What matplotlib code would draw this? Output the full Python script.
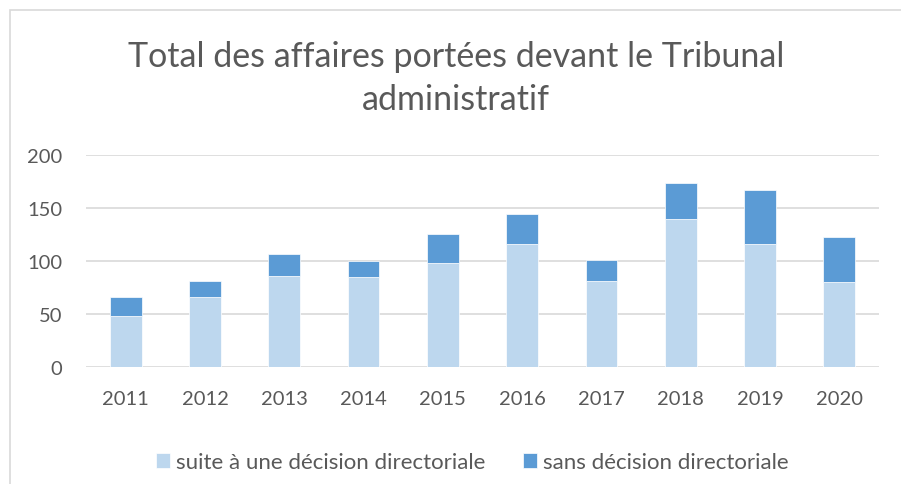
import matplotlib.pyplot as plt
from matplotlib.patches import Rectangle

years = ['2011', '2012', '2013', '2014', '2015', '2016', '2017', '2018', '2019', '2020']
avec_decision = [48, 66, 86, 85, 98, 116, 81, 139, 116, 80]
sans_decision = [18, 15, 20, 15, 27, 28, 20, 34, 51, 42]

light = '#BDD7EE'
dark = '#5B9BD5'
grey_text = '#595959'

plt.rcParams['font.family'] = ['Lato', 'DejaVu Sans']

fig = plt.figure(figsize=(9.01, 4.85), dpi=100)
ax = fig.add_axes([0.0955, 0.2419, 0.88, 0.4371])

x = range(len(years))
ax.bar(x, avec_decision, width=0.4, color=light, edgecolor='white', linewidth=0.5,
       label='suite à une décision directoriale', zorder=3)
ax.bar(x, sans_decision, width=0.4, bottom=avec_decision, color=dark, edgecolor='white',
       linewidth=0.5, label='sans décision directoriale', zorder=3)

ax.set_xlim(-0.5, 9.5)
ax.set_ylim(0, 200)
ax.set_yticks([0, 50, 100, 150, 200])
ax.set_xticks(list(x))
ax.set_xticklabels(years)
ax.yaxis.grid(True, color='#D9D9D9', linewidth=1.2, zorder=0)
for s in ['top', 'right', 'left', 'bottom']:
    ax.spines[s].set_visible(False)
ax.tick_params(axis='both', length=0, labelsize=14.5, labelcolor=grey_text)
ax.tick_params(axis='y', pad=17)
ax.tick_params(axis='x', pad=17)

fig.text(0.506, 0.882, 'Total des affaires portées devant le Tribunal', ha='center',
         va='center', fontsize=24.5, color=grey_text)
fig.text(0.506, 0.793, 'administratif', ha='center', va='center', fontsize=24.5, color=grey_text)

leg = fig.legend(loc='center', bbox_to_anchor=(0.524, 0.045), ncol=2, frameon=False,
                 fontsize=16, handlelength=0.63, handleheight=0.63, handletextpad=0.27,
                 columnspacing=1.7)
for t in leg.get_texts():
    t.set_color(grey_text)

fig.patches.append(Rectangle((10 / 901, -0.1), 1.0, 1 - 11 / 485 + 0.1, transform=fig.transFigure,
                             fill=False, edgecolor='#D9D9D9', linewidth=1.2))

fig.savefig('out.png', dpi=100)
